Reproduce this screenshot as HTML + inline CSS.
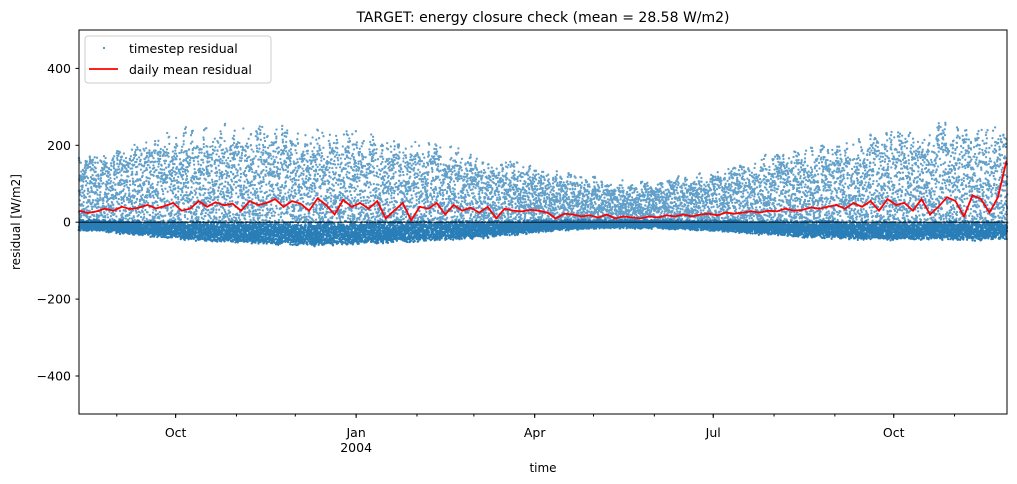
<!DOCTYPE html>
<html><head><meta charset="utf-8"><style>
body{margin:0;background:#fff}
svg{display:block;font-family:"DejaVu Sans","Liberation Sans",sans-serif}
</style></head><body>
<svg id="chart" width="1017" height="484" viewBox="0 0 1017 484">
<rect width="1017" height="484" fill="#fff"/>
<text x="543" y="22" font-size="14" text-anchor="middle">TARGET: energy closure check (mean = 28.58 W/m2)</text>
<g id="scatter"></g>
<line id="zeroline" x1="79" x2="1007" stroke="#000" stroke-width="0.8"/>
<path id="meanline" fill="none" stroke="#ff0000" stroke-width="1.8"/>
<g id="axes"></g>
<rect x="79" y="30" width="928" height="384" fill="none" stroke="#000" stroke-width="1"/>
<text x="20" y="222" font-size="12" text-anchor="middle" transform="rotate(-90 20 222)">residual [W/m2]</text>
<text x="543" y="472" font-size="12" text-anchor="middle">time</text>
<g>
<rect x="85" y="36" width="186" height="47" rx="3" fill="#fff" fill-opacity="0.85" stroke="#ccc"/>
<circle cx="104" cy="48" r="1" fill="#1f77b4"/>
<text x="129" y="53" font-size="12.5">timestep residual</text>
<line x1="89" x2="118" y1="69" y2="69" stroke="#ff0000" stroke-width="1.8"/>
<text x="129" y="74" font-size="12.5">daily mean residual</text>
</g>
</svg>
<script>
// envelopes every 10 days from 2003-08-13
const upperEnv=[200,180,200,220,230,250,250,265,260,260,260,255,250,245,240,235,230,225,215,205,195,180,170,155,145,135,125,120,112,110,120,130,140,150,165,180,195,205,215,225,235,245,250,255,260,262,265,265];
const lowerEnv=[-20,-22,-28,-32,-38,-42,-48,-50,-52,-55,-58,-60,-60,-58,-56,-55,-52,-50,-48,-45,-42,-38,-32,-28,-22,-18,-15,-14,-14,-15,-16,-18,-20,-24,-28,-32,-35,-38,-40,-42,-44,-45,-46,-45,-44,-45,-46,-46];
// daily mean (sampled) spanning the full period
const meanVals=[30,24,28,35,30,40,34,38,45,36,42,50,30,35,55,40,52,44,48,30,55,45,50,60,40,55,48,30,62,45,20,58,40,50,35,55,10,30,50,5,40,35,50,20,45,30,38,25,40,10,35,30,28,32,30,25,10,22,20,15,18,12,20,10,15,12,10,15,12,18,15,20,15,20,22,18,25,22,25,28,25,30,28,35,30,32,38,35,40,45,35,50,40,55,30,60,45,50,30,60,20,40,65,55,15,70,60,25,65,160];
const yTicks=[400,200,0,-200,-400];
const xTickLabels=["Oct","Jan","Apr","Jul","Oct"];
const xTickDays=[49,141,232,323,415];
const minorDays=[19,49,80,110,141,172,201,232,262,293,323,354,385,415,446];
const X0=79.5,PXD=1.962,Y0=222.2,PYU=0.3845,NDAYS=473;
const xs=d=>X0+d*PXD, ys=v=>Y0-v*PYU;
const NS="http://www.w3.org/2000/svg";
document.getElementById('zeroline').setAttribute('y1',ys(0));
document.getElementById('zeroline').setAttribute('y2',ys(0));
function env(arr,d){const t=d/10,i=Math.min(Math.floor(t),arr.length-2),f=Math.min(t-i,1);return arr[i]*(1-f)+arr[i+1]*f;}
function hh(a){const s=Math.sin(a*12.9898+78.233)*43758.5453;return s-Math.floor(s);}
// scatter texture
let p1="",p2="";
for(let d=0;d<NDAYS;d+=0.5){
 const up=env(upperEnv,d),lo=env(lowerEnv,d);
 const dayMax=up*(0.7+0.3*hh(Math.floor(d)*1.7+0.3));
 const x=xs(d);
 for(let k=0;k<11;k++){const h=hh(d*31.7+k*5.13);const u=Math.pow(h,1.1)*dayMax;p1+="M"+(x+hh(d+k*2.1)*1.6-0.8).toFixed(1)+" "+ys(u).toFixed(1)+"h0.01";}
 for(let k=0;k<14;k++){const h=hh(d*17.3+k*3.77+9);const v=lo*(0.1+0.9*h)+12*hh(d*5.1+k)-3;p2+="M"+(x+hh(d*2+k)*1.6-0.8).toFixed(1)+" "+ys(v).toFixed(1)+"h0.01";}
}
const sc=document.getElementById('scatter');
[p1,p2].forEach((p,i)=>{const e=document.createElementNS(NS,'path');e.setAttribute('d',p);e.setAttribute('stroke','#1f77b4');e.setAttribute('stroke-opacity',i?0.95:0.7);e.setAttribute('stroke-width',2.3);e.setAttribute('stroke-linecap','round');


sc.appendChild(e);});
// mean line
const step=(NDAYS-0.5)/(meanVals.length-1);
let md="";meanVals.forEach((v,i)=>{const d=i*step;md+=(i?"L":"M")+xs(d).toFixed(1)+" "+ys(v).toFixed(1);});
document.getElementById('meanline').setAttribute('d',md);
// axes
const ax=document.getElementById('axes');
function add(tag,attrs,txt){const e=document.createElementNS(NS,tag);for(const k in attrs)e.setAttribute(k,attrs[k]);if(txt!==undefined)e.textContent=txt;ax.appendChild(e);return e;}
yTicks.forEach(v=>{const y=ys(v);
 const l=add('line',{x1:75.5,x2:79,y1:y,y2:y,stroke:'#000'});
 
 
 const t=add('text',{x:71,y:y+4.5,'font-size':12.5,'text-anchor':'end'},v<0?'\u2212'+(-v):String(v));
 
 
});
minorDays.forEach(d=>{const l=add('line',{x1:xs(d),x2:xs(d),y1:414,y2:416.5,stroke:'#000'});
 
 });
xTickDays.forEach((d,i)=>{const x=xs(d);
 const l=add('line',{x1:x,x2:x,y1:414,y2:418,stroke:'#000'});
 
 
 const t=add('text',{x:x,y:437,'font-size':12.5,'text-anchor':'middle'},xTickLabels[i]);
 
 
});
const yr=add('text',{x:xs(141),y:452,'font-size':12.5,'text-anchor':'middle'},'2004');


</script>
</body></html>
